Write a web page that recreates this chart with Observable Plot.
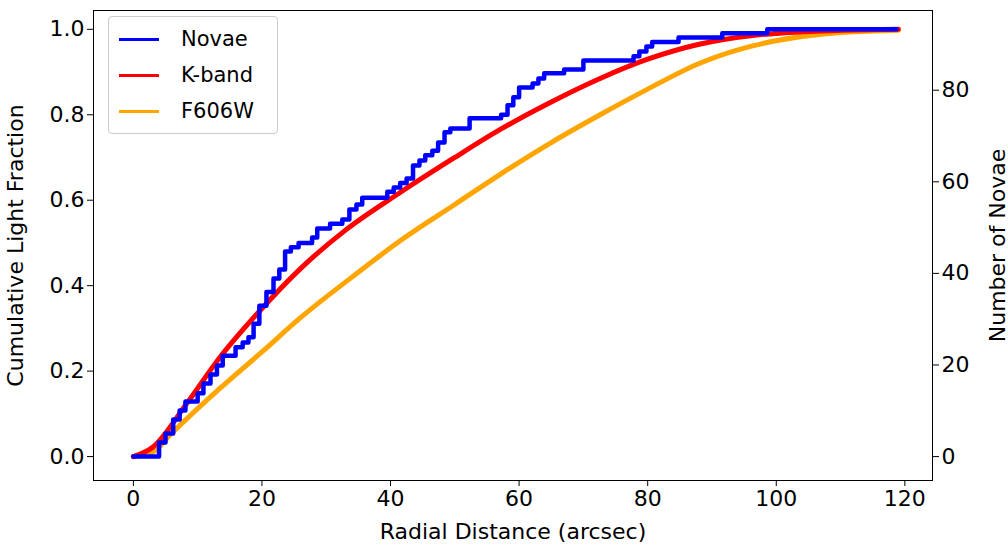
<!DOCTYPE html>
<html>
<head>
<meta charset="utf-8">
<script src="https://cdn.jsdelivr.net/npm/d3@7"></script>
<script src="https://cdn.jsdelivr.net/npm/@observablehq/plot@0.6"></script>
<style>
  body { margin: 0; background: #fff; font-family: "DejaVu Sans", sans-serif; }
  #wrap { position: relative; width: 1008px; height: 548px; }
  #legend { position: absolute; left: 108px; top: 16px; width: 168px; height: 116px;
    border: 1px solid #ccc; border-radius: 4px; background: rgba(255,255,255,0.85); font-size: 21px; }
  .item { position: absolute; left: 10px; height: 24px; display: flex; align-items: center; }
  .item span.sw { display: inline-block; width: 40px; height: 3px; margin-right: 22px; }
</style>
</head>
<body>
<div id="wrap">
  <div id="chart"></div>
  <div id="legend">
    <div class="item" style="top:10px"><span class="sw" style="background:blue"></span>Novae</div>
    <div class="item" style="top:46px"><span class="sw" style="background:red"></span>K-band</div>
    <div class="item" style="top:82px"><span class="sw" style="background:orange"></span>F606W</div>
  </div>
</div>
<script>
// cumulative nova fraction (step breakpoints)
const novaeR = [0, 4.0, 5.0, 6.2, 7.2, 8.1, 10.0, 10.9, 12.0, 13.0, 13.9, 15.9, 17.0, 17.9, 18.7, 19.6, 20.7, 21.8, 22.7, 23.6, 24.5, 25.7, 27.8, 28.6, 30.6, 32.5, 33.6, 34.7, 35.6, 39.5, 40.5, 41.5, 42.5, 43.5, 44.5, 45.4, 46.5, 47.4, 48.4, 49.3, 52.3, 57.2, 58.2, 59.1, 60.0, 62.1, 63.0, 63.9, 67.0, 70.0, 77.8, 78.7, 79.8, 80.7, 84.8, 91.6, 98.6, 118.7];
const novaeFrac = [0, 0.033, 0.054, 0.087, 0.108, 0.129, 0.148, 0.171, 0.192, 0.213, 0.236, 0.256, 0.267, 0.279, 0.311, 0.353, 0.385, 0.417, 0.438, 0.48, 0.49, 0.50, 0.513, 0.534, 0.545, 0.555, 0.578, 0.59, 0.606, 0.62, 0.63, 0.64, 0.651, 0.681, 0.693, 0.705, 0.716, 0.735, 0.759, 0.768, 0.792, 0.80, 0.822, 0.841, 0.864, 0.873, 0.885, 0.897, 0.906, 0.927, 0.937, 0.948, 0.96, 0.97, 0.981, 0.991, 1.0, 1.0];

const kR = [0, 3, 8.3, 13.5, 19.6, 26, 33, 41.5, 50, 57, 65, 72.6, 80, 88, 96, 104, 119];
const kFrac = [0, 0.022, 0.124, 0.233, 0.34, 0.44, 0.53, 0.618, 0.70, 0.765, 0.83, 0.885, 0.93, 0.965, 0.985, 0.994, 1.0];

const vR = [0, 3, 6, 13.5, 20, 26, 34, 41.5, 50, 57, 65, 72.6, 80, 88, 96, 104, 112, 119];
const vFrac = [0, 0.01, 0.055, 0.16, 0.245, 0.325, 0.42, 0.505, 0.59, 0.66, 0.735, 0.80, 0.86, 0.92, 0.96, 0.983, 0.994, 0.998];

const nTotal = 93.3;
const rightTicks = [0, 20, 40, 60, 80];

const novae = novaeR.map((r, i) => ({r, f: novaeFrac[i]}));
const kband = kR.map((r, i) => ({r, f: kFrac[i]}));
const f606 = vR.map((r, i) => ({r, f: vFrac[i]}));

const chart = Plot.plot({
  width: 1008, height: 548,
  marginLeft: 93, marginRight: 76, marginTop: 10, marginBottom: 68,
  style: {fontFamily: "DejaVu Sans", fontSize: "22px", color: "#000"},
  x: {domain: [-6.2, 124.3]},
  y: {domain: [-0.056, 1.044]},
  marks: [
    Plot.frame({stroke: "#000"}),
    Plot.axisX({ticks: [0, 20, 40, 60, 80, 100, 120], tickSize: 6, tickPadding: 4,
      label: "Radial Distance (arcsec)", labelAnchor: "center", labelArrow: "none", labelOffset: 58, fontSize: 22}),
    Plot.axisY({ticks: [0, 0.2, 0.4, 0.6, 0.8, 1.0], tickFormat: d3.format(".1f"), tickSize: 6,
      label: "Cumulative Light Fraction", labelAnchor: "center", labelArrow: "none", labelOffset: 86, fontSize: 22}),
    Plot.axisY({anchor: "right", ticks: rightTicks.map(n => n / nTotal), tickFormat: v => Math.round(v * nTotal), tickSize: 6,
      label: "Number of Novae", labelAnchor: "center", labelArrow: "none", labelOffset: 72, fontSize: 22}),
    Plot.line(f606, {x: "r", y: "f", stroke: "orange", strokeWidth: 5, curve: "monotone-x"}),
    Plot.line(kband, {x: "r", y: "f", stroke: "red", strokeWidth: 5, curve: "monotone-x"}),
    Plot.line(novae, {x: "r", y: "f", stroke: "blue", strokeWidth: 4.5, curve: "step-after"})
  ]
});
document.getElementById("chart").append(chart);
</script>
</body>
</html>
